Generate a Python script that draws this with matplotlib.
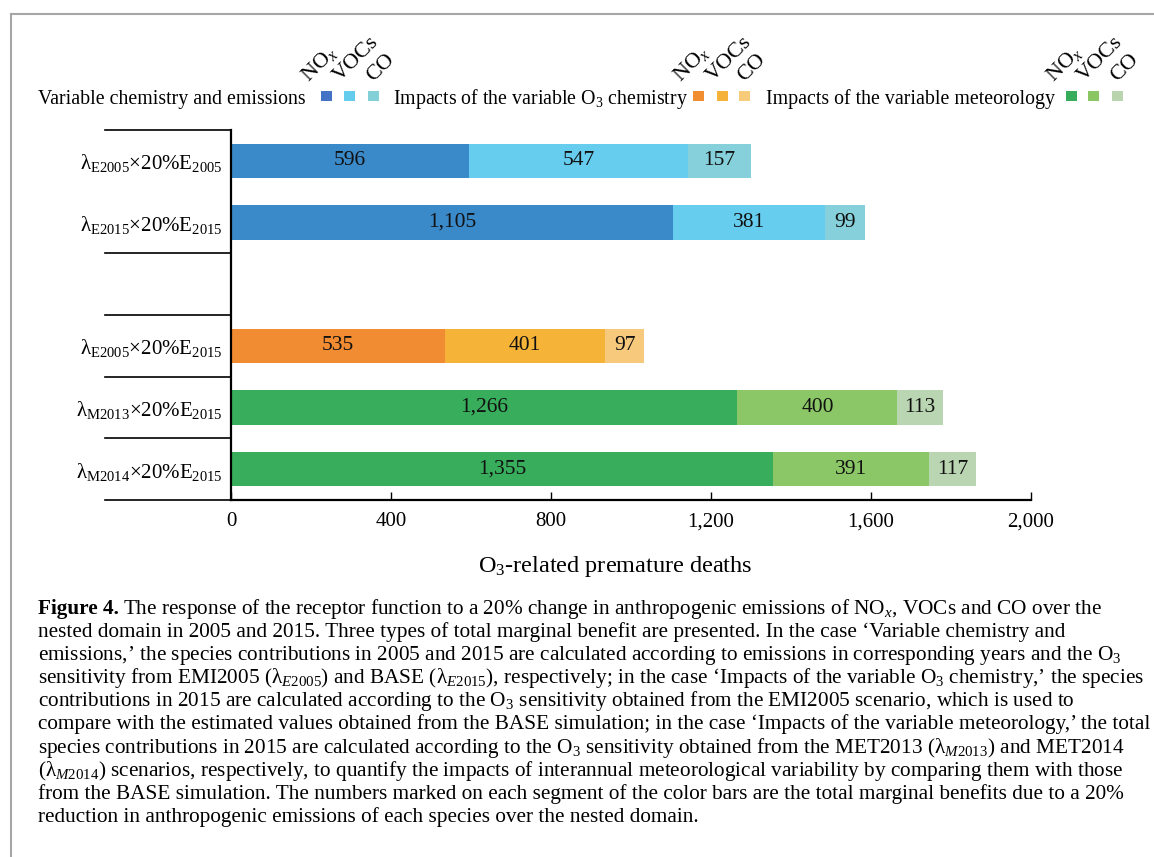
import numpy as np
import matplotlib
matplotlib.use("Agg")
import matplotlib.pyplot as plt
from matplotlib.patches import Rectangle
from matplotlib.lines import Line2D
from matplotlib.ticker import FuncFormatter

plt.rcParams['font.family'] = ['Liberation Serif', 'DejaVu Serif']
plt.rcParams['mathtext.fontset'] = 'custom'
plt.rcParams['mathtext.rm'] = 'Liberation Serif'
plt.rcParams['mathtext.it'] = 'Liberation Serif:italic'
plt.rcParams['mathtext.bf'] = 'Liberation Serif:bold'

# === Data ===
row_labels = [
    'λ$_{\\mathrm{E2005}}$×20%E$_{\\mathrm{2005}}$',
    'λ$_{\\mathrm{E2015}}$×20%E$_{\\mathrm{2015}}$',
    '',
    'λ$_{\\mathrm{E2005}}$×20%E$_{\\mathrm{2015}}$',
    'λ$_{\\mathrm{M2013}}$×20%E$_{\\mathrm{2015}}$',
    'λ$_{\\mathrm{M2014}}$×20%E$_{\\mathrm{2015}}$',
]
row_groups = ['emis', 'emis', None, 'chem', 'met', 'met']
group_sizes = [2, 1, 1, 1, 1]   # category blocks on the y axis

nox = [596, 1105, 0, 535, 1266, 1355]
vocs = [547, 381, 0, 401, 400, 391]
co = [157, 99, 0, 97, 113, 117]

species = ['NO$_x$', 'VOCs', 'CO']
legend_names = ['Variable chemistry and emissions',
                'Impacts of the variable O$_3$ chemistry',
                'Impacts of the variable meteorology']
legend_keys = ['emis', 'chem', 'met']

bar_colors = {
    'emis': ['#3a89c9', '#66cdef', '#85d0da'],
    'chem': ['#f28c33', '#f5b338', '#f6c97c'],
    'met':  ['#38ad5c', '#8bc766', '#b9d5b1'],
}
legend_colors = {
    'emis': ['#4472c4', '#66ccee', '#82d0d8'],
    'chem': ['#f28e32', '#f5b33a', '#f6cb7a'],
    'met':  ['#37ac5b', '#8ac764', '#b8d5b0'],
}

caption_lines = [
    "The response of the receptor function to a 20% change in anthropogenic emissions of NO$_x$, VOCs and CO over the",
    "nested domain in 2005 and 2015. Three types of total marginal benefit are presented. In the case \u2018Variable chemistry and",
    "emissions,\u2019 the species contributions in 2005 and 2015 are calculated according to emissions in corresponding years and the O$_3$",
    "sensitivity from EMI2005 (λ$_{E2005}$) and BASE (λ$_{E2015}$), respectively; in the case \u2018Impacts of the variable O$_3$ chemistry,\u2019 the species",
    "contributions in 2015 are calculated according to the O$_3$ sensitivity obtained from the EMI2005 scenario, which is used to",
    "compare with the estimated values obtained from the BASE simulation; in the case \u2018Impacts of the variable meteorology,\u2019 the total",
    "species contributions in 2015 are calculated according to the O$_3$ sensitivity obtained from the MET2013 (λ$_{M2013}$) and MET2014",
    "(λ$_{M2014}$) scenarios, respectively, to quantify the impacts of interannual meteorological variability by comparing them with those",
    "from the BASE simulation. The numbers marked on each segment of the color bars are the total marginal benefits due to a 20%",
    "reduction in anthropogenic emissions of each species over the nested domain.",
]

# === Figure ===
W, H = 1154, 857
fig = plt.figure(figsize=(W / 100, H / 100), dpi=100)


def fx(px):
    return px / W


def fy(py):
    return 1 - py / H


# page frame (top and left rule)
fig.add_artist(Line2D([fx(11), 1], [fy(14), fy(14)], color='#a6a6a6', lw=1.5))
fig.add_artist(Line2D([fx(11), fx(11)], [fy(14), 0], color='#a6a6a6', lw=1.5))

ax = fig.add_axes([fx(231), fy(500), 800 / W, 370 / H])

y = np.arange(len(row_labels))
for i, g in enumerate(row_groups):
    if g is None:
        continue
    left = 0
    for k, vals in enumerate([nox, vocs, co]):
        v = vals[i]
        ax.barh(y[i], v, left=left, height=0.56, color=bar_colors[g][k])
        ax.text(left + v / 2, y[i], f'{v:,}', ha='center', va='center',
                fontsize=15.5, color='#111111')
        left += v

ax.set_xlim(0, 2000)
ax.set_ylim(len(row_labels) - 0.5, -0.5)
ax.set_xticks(np.arange(0, 2001, 400))
ax.xaxis.set_major_formatter(FuncFormatter(lambda v, p: f'{v:,.0f}'))
ax.tick_params(axis='x', direction='in', length=6, width=1, labelsize=15, pad=9)
ax.set_yticks(y)
ax.set_yticklabels(row_labels, fontsize=15)
ax.tick_params(axis='y', length=0, pad=6)
for s in ['top', 'right']:
    ax.spines[s].set_visible(False)
ax.spines['left'].set_linewidth(1.6)
ax.spines['bottom'].set_linewidth(1.6)
ax.set_xlabel('O$_3$-related premature deaths', fontsize=17.5)
ax.xaxis.set_label_coords((615 - 231) / 800, -0.145)

# block separators on the category axis
bounds = np.concatenate([[0], np.cumsum(group_sizes)]) - 0.5
for b in bounds:
    ax.plot([-0.1575, 0], [b, b], color='black', lw=1.2,
            transform=ax.get_yaxis_transform(), clip_on=False)

# === Legend row ===
legend_text_x = [38, 393, 766]
legend_square_x = [[321, 344, 368], [693, 717, 739], [1066, 1088, 1112]]
label_offsets = [-13, -4, 5]
for name, key, tx, sqx in zip(legend_names, legend_keys, legend_text_x, legend_square_x):
    fig.text(fx(tx), fy(104), name, fontsize=14.3, ha='left', va='baseline')
    for k, sx in enumerate(sqx):
        fig.add_artist(Rectangle((fx(sx), fy(101)), 11 / W, 10 / H,
                                 transform=fig.transFigure,
                                 color=legend_colors[key][k], lw=0))
        fig.text(fx(sx + label_offsets[k]), fy(82), species[k], fontsize=16,
                 rotation=45, rotation_mode='anchor', ha='left', va='baseline')

# === Caption ===
renderer = fig.canvas.get_renderer()
cap_size = 15.3
bold = fig.text(fx(38), fy(614), 'Figure 4.', fontsize=cap_size, fontweight='bold',
                ha='left', va='baseline')
bw = bold.get_window_extent(renderer).width
for i, line in enumerate(caption_lines):
    x0 = 38 + bw + 4 if i == 0 else 38
    fig.text(fx(x0), fy(614 + 23.1 * i), line, fontsize=cap_size,
             ha='left', va='baseline')

fig.savefig('out.png', dpi=100)
